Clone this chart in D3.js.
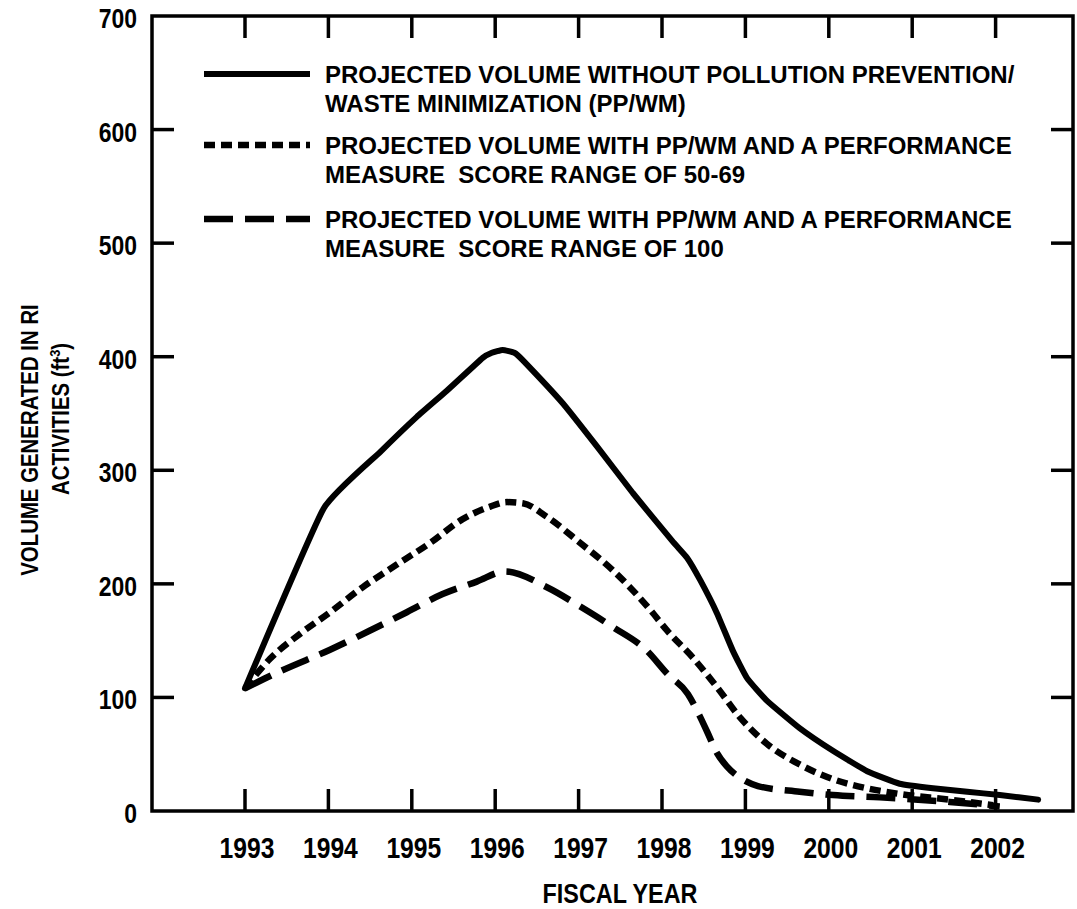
<!DOCTYPE html>
<html lang="en">
<head>
    <meta charset="UTF-8">
    <title>Volume generated in RI activities</title>
    <script src="https://d3js.org/d3.v7.min.js"></script>
    <style>
        body { margin: 0; background: #fff; }
        svg { display: block; }
        text { fill: #000; font-weight: bold; font-family: "Liberation Sans", Arial, sans-serif; }
        .frame { fill: none; stroke: #000; stroke-width: 3.5px; }
        .tick { stroke: #000; stroke-width: 3.5px; }
        .legend text { font-size: 24px; }
        .series { fill: none; stroke: #000; }
    </style>
</head>
<body>
    <svg width="1077" height="909"></svg>

    <script>
        // values (fiscal year, ft3)
        const yearTicks = [1993, 1994, 1995, 1996, 1997, 1998, 1999, 2000, 2001, 2002];
        const volumeTicks = [0, 100, 200, 300, 400, 500, 600, 700];

        const noPpwmYear = [1993, 1993.94, 1994.62, 1995.06, 1995.42, 1995.85, 1995.96, 1996.09, 1996.23, 1996.33, 1996.81, 1997.22, 1997.65,
            1998.12, 1998.3, 1998.46, 1998.66, 1998.85, 1999.02, 1999.26, 1999.65, 2000.05, 2000.46, 2000.85, 2001.25, 2001.66, 2002.05, 2002.51];
        const noPpwmVolume = [108, 266, 316, 347, 370, 399, 403.5, 406, 403.5, 397, 359, 321, 280,
            238, 223, 203, 174, 141, 117, 97, 73, 53, 35, 24, 20, 17, 14, 10];

        const ppwm5069Year = [1993, 1993.3, 1993.66, 1994.02, 1994.41, 1994.82, 1995.22, 1995.61, 1995.94, 1996.14, 1996.33, 1996.62,
            1997.02, 1997.41, 1997.86, 1998.06, 1998.37, 1998.66, 1998.94, 1999.26, 1999.65, 2000.05, 2000.46, 2000.85, 2001.45, 2001.97];
        const ppwm5069Volume = [108, 134, 156, 175, 197, 217, 236, 257, 268, 272, 271, 259,
            236, 212, 177, 159, 135, 109, 82, 59, 41, 28, 20, 15, 10, 5];

        const ppwm100Year = [1993, 1993.42, 1994.02, 1994.53, 1994.94, 1995.37, 1995.78, 1996.12, 1996.62, 1997.02, 1997.41, 1997.82,
            1998.06, 1998.31, 1998.45, 1998.54, 1998.66, 1998.78, 1998.94, 1999.15, 1999.65, 2000.05, 2000.61, 2001.45, 2002.05];
        const ppwm100Volume = [108, 123, 142, 160, 175, 191, 202, 211, 197, 180, 162, 141,
            121, 103, 84, 70, 51, 39, 29, 22, 17, 14, 12, 8, 4];

        const legendLines = [
            ["PROJECTED VOLUME WITHOUT POLLUTION PREVENTION/", "WASTE MINIMIZATION (PP/WM)"],
            ["PROJECTED VOLUME WITH PP/WM AND A PERFORMANCE", "MEASURE  SCORE RANGE OF 50-69"],
            ["PROJECTED VOLUME WITH PP/WM AND A PERFORMANCE", "MEASURE  SCORE RANGE OF 100"]
        ];
        const lineDash = [null, "11,6", "29,12"];
        const lineWidth = [6, 6.5, 6.5];

        const svg = d3.select("svg");
        const frameLeft = 152, frameRight = 1073, frameTop = 16, frameBottom = 811;

        const x = d3.scaleLinear().domain([1993, 2002]).range([245, 995.6]);
        const y = d3.scaleLinear().domain([0, 700]).range([frameBottom, frameTop]);

        const series = [
            noPpwmYear.map((yr, i) => [yr, noPpwmVolume[i]]),
            ppwm5069Year.map((yr, i) => [yr, ppwm5069Volume[i]]),
            ppwm100Year.map((yr, i) => [yr, ppwm100Volume[i]])
        ];

        // frame
        svg.append("rect").attr("class", "frame")
            .attr("x", frameLeft).attr("y", frameTop)
            .attr("width", frameRight - frameLeft).attr("height", frameBottom - frameTop);

        const tickLen = 22;
        const innerV = volumeTicks.filter(v => v > 0 && v < 700);

        // inward ticks on all four sides
        const ticks = svg.append("g");
        ticks.selectAll(".ly").data(innerV).enter().append("line").attr("class", "tick")
            .attr("x1", frameLeft).attr("x2", frameLeft + tickLen)
            .attr("y1", d => y(d)).attr("y2", d => y(d));
        ticks.selectAll(".ry").data(innerV).enter().append("line").attr("class", "tick")
            .attr("x1", frameRight).attr("x2", frameRight - tickLen)
            .attr("y1", d => y(d)).attr("y2", d => y(d));
        ticks.selectAll(".bx").data(yearTicks).enter().append("line").attr("class", "tick")
            .attr("x1", d => x(d)).attr("x2", d => x(d))
            .attr("y1", frameBottom).attr("y2", frameBottom - tickLen);
        ticks.selectAll(".tx").data(yearTicks).enter().append("line").attr("class", "tick")
            .attr("x1", d => x(d)).attr("x2", d => x(d))
            .attr("y1", frameTop).attr("y2", frameTop + tickLen);

        // condensed look: squeeze the bold face horizontally
        const squeeze = (px, py, sx) => `translate(${px},${py}) scale(${sx},1)`;

        svg.append("g").selectAll("text").data(volumeTicks).enter().append("text")
            .attr("transform", d => squeeze(137, y(d) + 12, 0.82))
            .attr("text-anchor", "end")
            .style("font-size", "28px")
            .text(d => d);

        svg.append("g").selectAll("text").data(yearTicks).enter().append("text")
            .attr("transform", d => squeeze(x(d) + 2, 858, 0.85))
            .attr("text-anchor", "middle")
            .style("font-size", "29px")
            .text(d => d);

        // axis titles
        svg.append("text")
            .attr("transform", squeeze(620, 903, 0.82))
            .attr("text-anchor", "middle")
            .style("font-size", "28.5px")
            .text("FISCAL YEAR");

        svg.append("text")
            .attr("transform", "translate(38,440) rotate(-90) scale(0.85,1)")
            .attr("text-anchor", "middle")
            .style("font-size", "24px")
            .text("VOLUME GENERATED IN RI");
        const t2 = svg.append("text")
            .attr("transform", "translate(69,419) rotate(-90) scale(0.85,1)")
            .attr("text-anchor", "middle")
            .style("font-size", "24px")
            .text("ACTIVITIES (ft");
        t2.append("tspan").attr("dy", -9).style("font-size", "15px").text("3");
        t2.append("tspan").attr("dy", 9).text(")");

        // curves: the solid one keeps its corners, the other two are smooth
        const curves = [d3.curveCardinal.tension(0.6), d3.curveMonotoneX, d3.curveMonotoneX];

        svg.append("g").selectAll("path").data(series).enter().append("path")
            .attr("class", "series")
            .attr("d", (d, i) => d3.line()
                .x(p => x(p[0]))
                .y(p => y(p[1]))
                .curve(curves[i])(d))
            .attr("stroke-width", (d, i) => lineWidth[i])
            .attr("stroke-dasharray", (d, i) => lineDash[i])
            .attr("stroke-linejoin", "round")
            .attr("stroke-linecap", (d, i) => i === 0 ? "round" : "butt");

        // legend
        const legendY = [74, 145, 219];
        const legend = svg.append("g").attr("class", "legend");
        legendLines.forEach((lines, i) => {
            legend.append("line")
                .attr("x1", 204).attr("x2", 310)
                .attr("y1", legendY[i]).attr("y2", legendY[i])
                .attr("stroke", "#000")
                .attr("stroke-width", lineWidth[i])
                .attr("stroke-dasharray", lineDash[i]);
            lines.forEach((txt, j) => {
                legend.append("text")
                    .attr("x", 325)
                    .attr("y", legendY[i] + 9 + j * 29)
                    .attr("xml:space", "preserve")
                    .text(txt);
            });
        });
    </script>
</body>
</html>
